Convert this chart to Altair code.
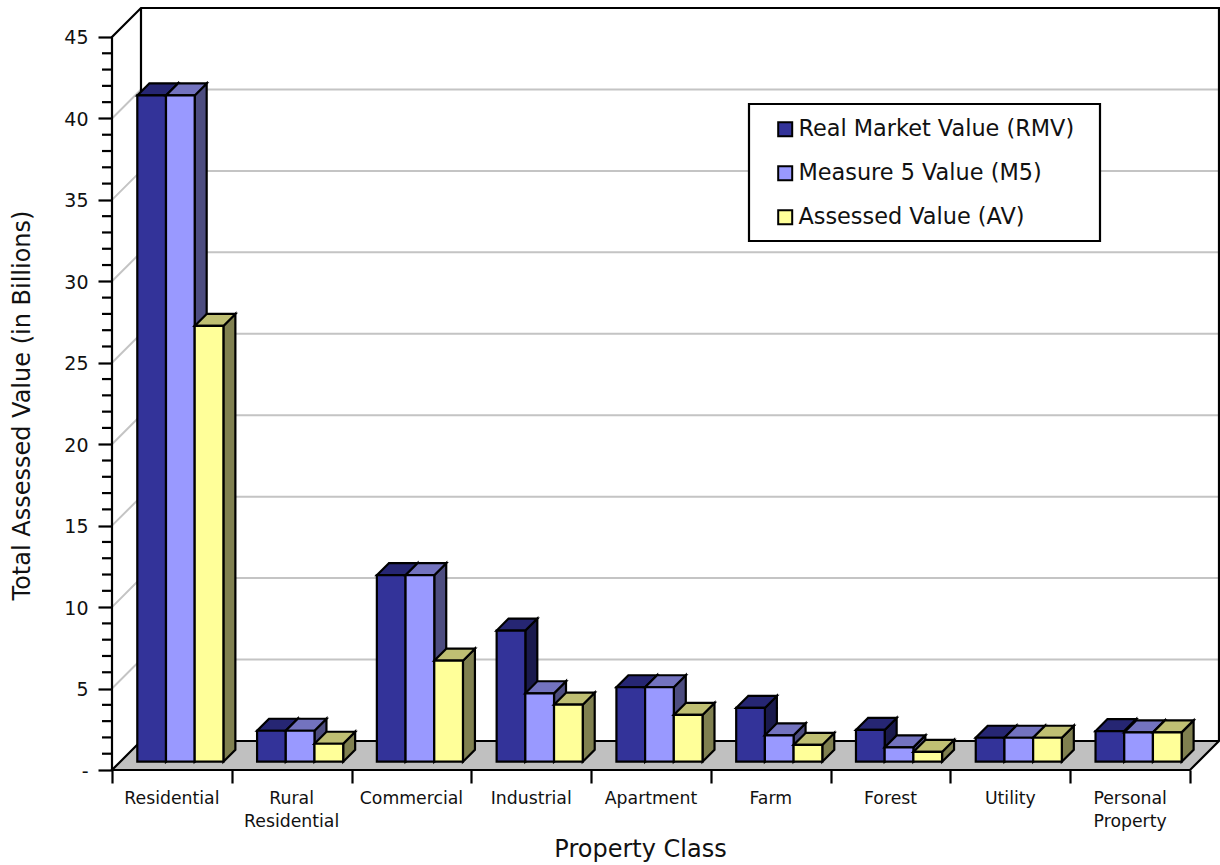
import altair as alt
import pandas as pd

# Property classes and assessed totals, in billions of dollars
categories = ["Residential", "Rural\nResidential", "Commercial", "Industrial", "Apartment",
              "Farm", "Forest", "Utility", "Personal\nProperty"]
series_names = ["Real Market Value (RMV)", "Measure 5 Value (M5)", "Assessed Value (AV)"]
rmv = [40.9, 1.9, 11.45, 8.05, 4.57, 3.3, 1.95, 1.47, 1.88]
m5 = [40.9, 1.9, 11.45, 4.2, 4.57, 1.62, 0.88, 1.47, 1.8]
av = [26.75, 1.1, 6.2, 3.5, 2.87, 1.03, 0.6, 1.47, 1.8]
series_values = [rmv, m5, av]

front_colors = ["#333399", "#9999FF", "#FFFF99"]
side_colors = ["#1A1A4D", "#4D4D80", "#808050"]
top_colors = ["#262673", "#7373BF", "#BFBF73"]

FONT = "DejaVu Sans"
INK = "#111111"
PLOT_W, PLOT_H = 1107, 762
Y_MAX = 45

# Depth of the box and of each bar, in axis units
BOX_DX, BOX_DY = 0.242, 1.78
BAR_DX, BAR_DY = 0.1, 0.737
BAR_START, BAR_W = 0.2112, 0.2396
BAR_BASE = 0.51
LINE_W = 2.2

x_scale = alt.Scale(domain=[0, len(categories) + BOX_DX], nice=False, zero=False)
y_scale = alt.Scale(domain=[0, Y_MAX + BOX_DY], nice=False, zero=False)

x_axis = alt.Axis(
    values=list(range(len(categories) + 1)), labels=False, domain=False, grid=False,
    tickSize=13, tickWidth=LINE_W, tickColor="black", title="Property Class",
    titleFont=FONT, titleFontSize=24, titleFontWeight="normal", titleColor=INK,
    titlePadding=53, titleX=528, titleAnchor="middle",
)
y_axis = alt.Axis(
    values=list(range(0, Y_MAX + 1, 5)), domain=False, grid=False,
    tickSize=14, tickWidth=LINE_W, tickColor="black",
    labelFont=FONT, labelFontSize=19, labelColor=INK, labelPadding=10, labelOffset=1,
    labelExpr="datum.value === 0 ? '-' : datum.label",
    title="Total Assessed Value (in Billions)", titleFont=FONT, titleFontSize=24,
    titleFontWeight="normal", titleColor=INK, titlePadding=29, titleY=397, titleAnchor="middle",
)


def X(field="x"):
    return alt.X(f"{field}:Q", scale=x_scale, axis=x_axis)


def Y(field="y"):
    return alt.Y(f"{field}:Q", scale=y_scale, axis=y_axis)


def polyline_rows(paths):
    rows = []
    for key, path in enumerate(paths):
        for order, (x, y) in enumerate(path):
            rows.append({"path": key, "order": order, "x": x, "y": y})
    return pd.DataFrame(rows)


def polyline(paths, color, width):
    return alt.Chart(polyline_rows(paths)).mark_line(color=color, strokeWidth=width).encode(
        x=X(), y=Y(), detail="path:N", order="order:Q"
    )


n = len(categories)
right = n + BOX_DX
top = Y_MAX + BOX_DY

# Gridlines run up the left wall, then across the back wall
grid = polyline(
    [[(0, v), (BOX_DX, v + BOX_DY), (right, v + BOX_DY)] for v in range(5, Y_MAX, 5)],
    "#C4C4C4", 2,
)

floor = alt.Chart(pd.DataFrame({
    "y": [0, BOX_DY], "x": [0, BOX_DX], "x2": [n, right]
})).mark_area(orient="horizontal", color="#C0C0C0", stroke="black", strokeWidth=LINE_W).encode(
    y=Y(), x=X(), x2="x2:Q"
)

walls = polyline(
    [
        [(0, 0), (0, Y_MAX), (BOX_DX, top), (right, top), (right, BOX_DY)],
        [(BOX_DX, BOX_DY), (BOX_DX, top)],
    ],
    "black", LINE_W,
)

minor_values = [v for v in range(1, Y_MAX) if v % 5]
minor_ticks = polyline([[(-0.0835, v), (0, v)] for v in minor_values], "black", LINE_W)

layers = [grid, floor, walls, minor_ticks]

# Each series is painted left to right so its front face covers the neighbour's side face
for s, values in enumerate(series_values):
    side_rows, top_rows, front_rows = [], [], []
    for c, value in enumerate(values):
        left = c + BAR_START + s * BAR_W
        edge = left + BAR_W
        low = BAR_BASE
        high = BAR_BASE + value
        side_rows += [
            {"cat": c, "x": edge, "y": low, "y2": high},
            {"cat": c, "x": edge + BAR_DX, "y": low + BAR_DY, "y2": high + BAR_DY},
        ]
        top_rows += [
            {"cat": c, "y": high, "x": left, "x2": edge},
            {"cat": c, "y": high + BAR_DY, "x": left + BAR_DX, "x2": edge + BAR_DX},
        ]
        front_rows.append({"series": series_names[s], "x": left, "x2": edge, "y": low, "y2": high})

    layers.append(
        alt.Chart(pd.DataFrame(side_rows))
        .mark_area(color=side_colors[s], stroke="black", strokeWidth=LINE_W)
        .encode(x=X(), y=Y(), y2="y2:Q", detail="cat:N")
    )
    layers.append(
        alt.Chart(pd.DataFrame(top_rows))
        .mark_area(orient="horizontal", color=top_colors[s], stroke="black", strokeWidth=LINE_W)
        .encode(y=Y(), x=X(), x2="x2:Q", detail="cat:N")
    )
    layers.append(
        alt.Chart(pd.DataFrame(front_rows))
        .mark_rect(stroke="black", strokeWidth=LINE_W)
        .encode(
            x=X(), x2="x2:Q", y=Y(), y2="y2:Q",
            fill=alt.Fill(
                "series:N",
                scale=alt.Scale(domain=series_names, range=front_colors),
                legend=alt.Legend(
                    orient="none", legendX=662, legendY=110, title=None, padding=0,
                    symbolType="square", symbolSize=196, symbolStrokeColor="black",
                    symbolStrokeWidth=2, symbolOpacity=1, labelFont=FONT, labelFontSize=22.4,
                    labelColor=INK, labelOffset=2, rowPadding=21, labelLimit=340,
                ),
            ),
        )
    )

category_labels = alt.Chart(pd.DataFrame({
    "x": [c + 0.5 for c in range(n)], "label": categories
})).mark_text(
    font=FONT, fontSize=17.3, color=INK, baseline="top", align="center", lineBreak="\n", lineHeight=23
).encode(x=X(), y=alt.value(PLOT_H + 20), text="label:N")
layers.append(category_labels)

legend_box = alt.Chart(pd.DataFrame({"box": [1]})).mark_rect(
    fill="white", stroke="black", strokeWidth=LINE_W
).encode(x=alt.value(637), x2=alt.value(988), y=alt.value(96), y2=alt.value(233))
layers.append(legend_box)

chart = (
    alt.layer(*layers)
    .properties(
        width=PLOT_W, height=PLOT_H, autosize="none", background="white",
        padding={"left": 112, "top": 8, "right": 1, "bottom": 95},
    )
    .configure_view(stroke=None)
)

chart.save("out.html", embed_options={"renderer": "svg", "actions": False})
